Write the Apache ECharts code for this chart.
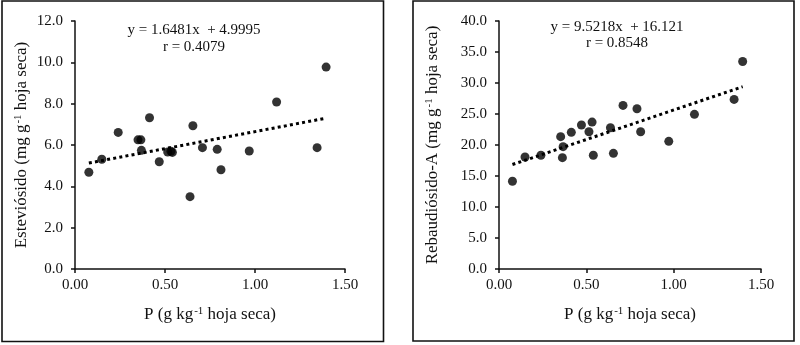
<!DOCTYPE html>
<html><head><meta charset="utf-8">
<script src="https://cdn.jsdelivr.net/npm/echarts@6/dist/echarts.min.js"></script>
<style>html,body{margin:0;padding:0;background:#fff}#c{width:800px;height:345px}</style>
</head><body><div id="c"></div><script>
// P (g kg-1 hoja seca)
const P = [0.077, 0.149, 0.240, 0.350, 0.366, 0.369, 0.414, 0.468, 0.515, 0.533, 0.541, 0.639, 0.655, 0.708, 0.790, 0.811, 0.968, 1.120, 1.345, 1.395];
const esteviosido = [4.68, 5.31, 6.61, 6.25, 6.25, 5.74, 7.32, 5.19, 5.66, 5.70, 5.64, 3.50, 6.93, 5.87, 5.79, 4.80, 5.71, 8.08, 5.87, 9.77];
const P_B = [0.077, 0.149, 0.240, 0.353, 0.363, 0.367, 0.414, 0.472, 0.515, 0.533, 0.540, 0.638, 0.655, 0.710, 0.790, 0.811, 0.972, 1.119, 1.346, 1.395];
const rebaudiosido = [14.16, 18.07, 18.34, 21.34, 17.96, 19.73, 22.04, 23.22, 22.14, 23.70, 18.34, 22.79, 18.66, 26.39, 25.84, 22.14, 20.59, 24.94, 27.35, 33.46];
const fitA = [1.6481, 4.9995]; // slope, intercept
const fitB = [9.5218, 16.121];
const eqTextA = ['y = 1.6481x  + 4.9995', 'r = 0.4079'];
const eqTextB = ['y = 9.5218x  + 16.121', 'r = 0.8548'];
const xAxisRange = [0, 1.5, 0.5];
const yAxisA = [0, 12, 2];
const yAxisB = [0, 40, 5];
const xName = 'P (g kg{sup|-1} hoja seca)';
const yNameA = 'Esteviósido (mg g{sup|-1} hoja seca)';
const yNameB = 'Rebaudiósido-A (mg g{sup|-1} hoja seca)';

const FONT = '"Liberation Serif","Times New Roman",serif';
const INK = '#111';
const nameStyle = {fontFamily: FONT, fontSize: 17, color: INK, lineHeight: 20,
  rich: {sup: {fontFamily: FONT, fontSize: 11, color: INK, lineHeight: 20, verticalAlign: 'top', padding:[1,0,0,1]}}};

function xAxis(idx) {
  return {type: 'value', gridIndex: idx, min: xAxisRange[0], max: xAxisRange[1], interval: xAxisRange[2],
    name: xName, nameLocation: 'middle', nameGap: 36, nameTextStyle: nameStyle,
    axisLine: {show: true, onZero: false, lineStyle: {color: INK, width: 1.5}},
    axisTick: {show: true, inside: false, length: 4, lineStyle: {color: INK, width: 1.5}},
    axisLabel: {margin: 9, fontFamily: FONT, fontSize: 15, color: INK, formatter: v => v.toFixed(2)},
    splitLine: {show: false}};
}
function yAxis(idx, r, name, gap) {
  return {type: 'value', gridIndex: idx, min: r[0], max: r[1], interval: r[2],
    name: name, nameLocation: 'middle', nameGap: gap, nameTextStyle: nameStyle,
    axisLine: {show: true, onZero: false, lineStyle: {color: INK, width: 1.5}},
    axisTick: {show: true, inside: false, length: 4, lineStyle: {color: INK, width: 1.5}},
    axisLabel: {margin: 12, fontFamily: FONT, fontSize: 15, color: INK, formatter: v => v.toFixed(1)},
    splitLine: {show: false}};
}
function trend(xs, fit) {
  const lo = Math.min(...xs), hi = Math.max(...xs);
  return [[lo, fit[0]*lo + fit[1]], [hi, fit[0]*hi + fit[1]]];
}
const zipA = P.map((x, i) => [x, esteviosido[i]]);
const zipB = P_B.map((x, i) => [x, rebaudiosido[i]]);
const dotted = {color: '#000', width: 3, type: [3, 3.2], cap: 'butt'};

const eqStyle = {fontFamily: FONT, fontSize: 15, fill: INK, align: 'center', verticalAlign: 'middle'};
const chart = echarts.init(document.getElementById('c'), null, {renderer: 'canvas'});
chart.setOption({
  animation: false,
  backgroundColor: '#fff',
  grid: [
    {left: 75, top: 21, width: 270, height: 248},
    {left: 499, top: 21, width: 262, height: 248}
  ],
  xAxis: [xAxis(0), xAxis(1)],
  yAxis: [yAxis(0, yAxisA, yNameA, 43), yAxis(1, yAxisB, yNameB, 56)],
  series: [
    {type: 'line', xAxisIndex: 0, yAxisIndex: 0, data: trend(P, fitA), showSymbol: false, lineStyle: dotted, z: 1},
    {type: 'scatter', xAxisIndex: 0, yAxisIndex: 0, data: zipA, symbol: 'circle', symbolSize: 9, itemStyle: {color: '#000'}, z: 2},
    {type: 'line', xAxisIndex: 1, yAxisIndex: 1, data: trend(P_B, fitB), showSymbol: false, lineStyle: dotted, z: 1},
    {type: 'scatter', xAxisIndex: 1, yAxisIndex: 1, data: zipB, symbol: 'circle', symbolSize: 9, itemStyle: {color: '#000'}, z: 2}
  ],
  graphic: [
    {type: 'rect', shape: {x: 2, y: 1, width: 381.5, height: 340.5}, style: {fill: 'none', stroke: '#111', lineWidth: 1.6}, silent: true},
    {type: 'rect', shape: {x: 413, y: 1, width: 381, height: 340}, style: {fill: 'none', stroke: '#111', lineWidth: 1.6}, silent: true},
    {type: 'text', x: 194, y: 30, style: Object.assign({text: eqTextA[0]}, eqStyle)},
    {type: 'text', x: 194, y: 47, style: Object.assign({text: eqTextA[1]}, eqStyle)},
    {type: 'text', x: 617, y: 27, style: Object.assign({text: eqTextB[0]}, eqStyle)},
    {type: 'text', x: 617, y: 43, style: Object.assign({text: eqTextB[1]}, eqStyle)}
  ]
});
</script></body></html>
